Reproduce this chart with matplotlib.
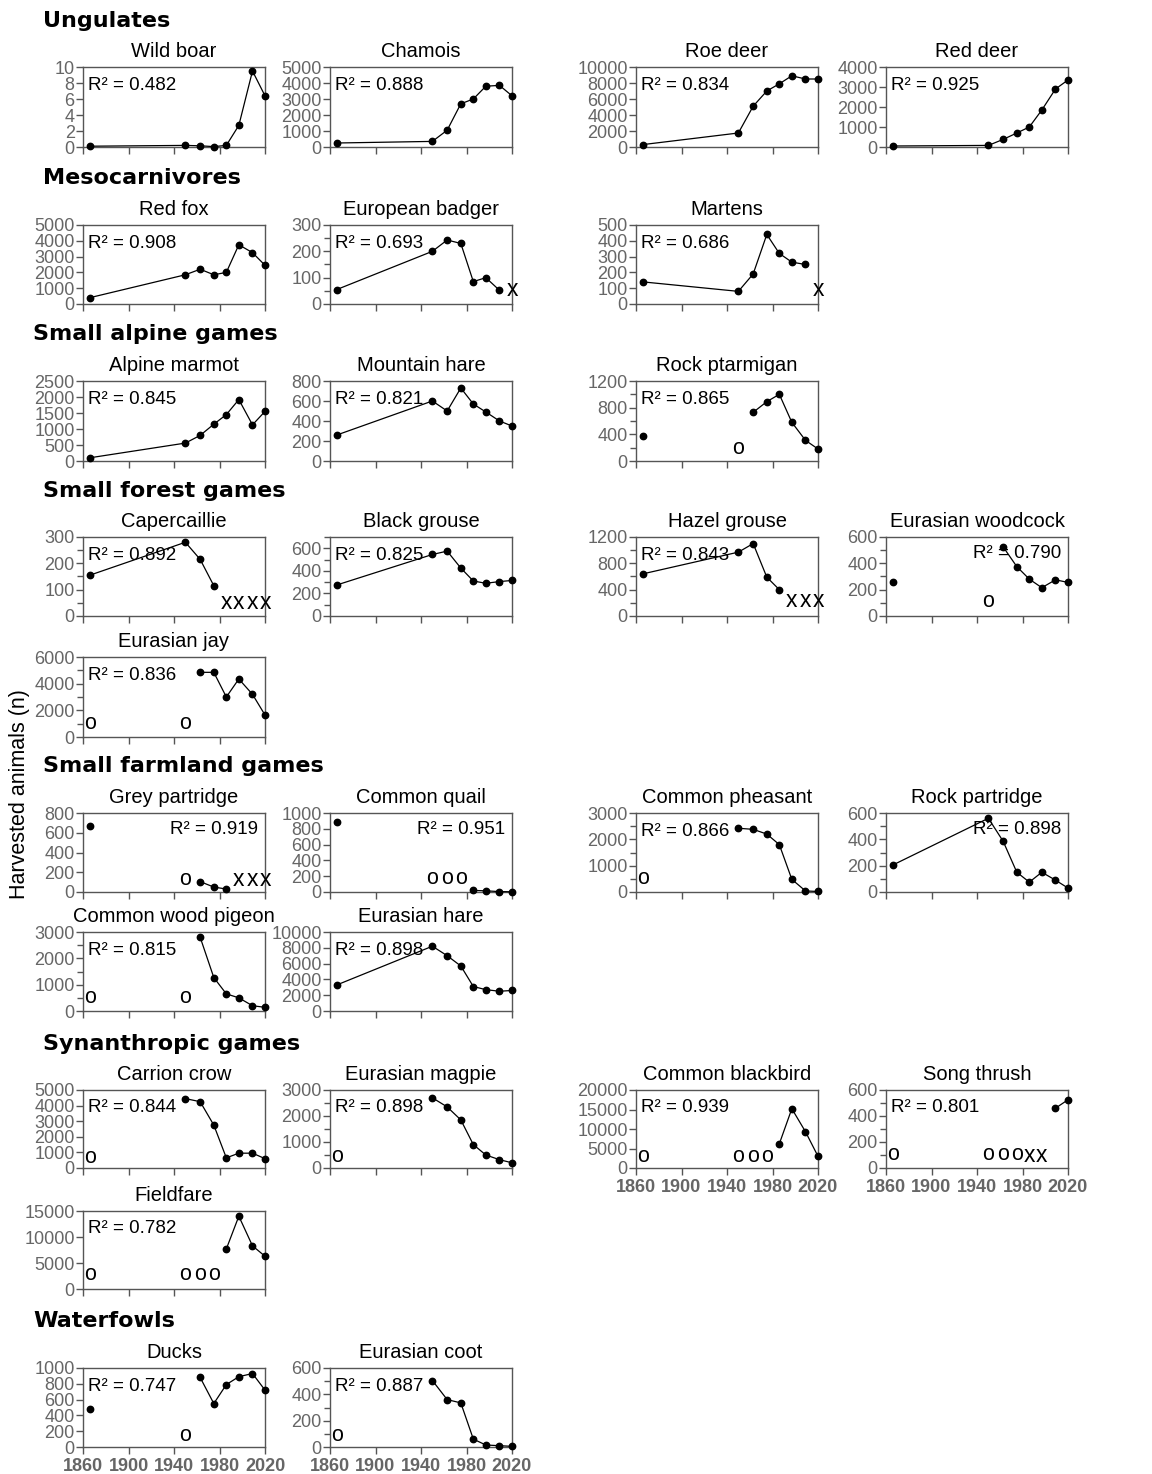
import numpy as np
import matplotlib
matplotlib.use("Agg")
import matplotlib.pyplot as plt
from matplotlib.ticker import MultipleLocator

plt.rcParams['font.family'] = ['Liberation Sans', 'DejaVu Sans']

nan = np.nan
YEARS = [1866, 1950, 1963, 1975, 1986, 1997, 2009, 2020]

# ---- harvested animals (n) per period ----
wild_boar      = [0.1, 0.2, 0.15, 0.05, 0.2, 2.7, 9.5, 6.4]
chamois        = [250, 350, 1050, 2700, 3000, 3800, 3850, 3200]
roe_deer       = [300, 1750, 5100, 7000, 7900, 8900, 8500, 8500]
red_deer       = [50, 80, 380, 700, 1000, 1850, 2900, 3350]
red_fox        = [400, 1850, 2200, 1850, 2000, 3750, 3250, 2450]
badger         = [55, 200, 243, 230, 85, 100, 52, nan]
martens        = [140, 80, 190, 440, 320, 265, 250, nan]
marmot         = [100, 560, 800, 1150, 1450, 1920, 1130, 1550]
mountain_hare  = [260, 600, 500, 730, 570, 490, 400, 350]
ptarmigan      = [380, nan, 730, 890, 1000, 580, 310, 180]
capercaillie   = [155, 280, 215, 115, nan, nan, nan, nan]
black_grouse   = [275, 545, 575, 425, 310, 290, 305, 315]
hazel_grouse   = [640, 970, 1100, 590, 400, nan, nan, nan]
woodcock       = [260, nan, 525, 375, 280, 215, 275, 255]
jay            = [nan, nan, 4850, 4850, 3000, 4350, 3200, 1650]
grey_partridge = [670, nan, 105, 50, 30, nan, nan, nan]
quail          = [880, nan, nan, nan, 20, 15, 5, 3]
pheasant       = [nan, 2420, 2380, 2200, 1800, 480, 40, 20]
rock_partridge = [205, 560, 385, 150, 75, 150, 90, 30]
wood_pigeon    = [nan, nan, 2800, 1270, 650, 500, 200, 140]
eurasian_hare  = [3300, 8200, 7000, 5700, 3100, 2700, 2500, 2600]
carrion_crow   = [nan, 4450, 4250, 2750, 650, 950, 950, 600]
magpie         = [nan, 2700, 2350, 1850, 900, 500, 320, 200]
blackbird      = [nan, nan, nan, nan, 6200, 15200, 9300, 3000]
song_thrush    = [nan, nan, nan, nan, nan, nan, 460, 525]
fieldfare      = [nan, nan, nan, nan, 7700, 14000, 8300, 6300]
ducks          = [480, nan, 880, 550, 790, 890, 930, 720]
coot           = [nan, 505, 360, 335, 60, 15, 10, 5]

# ---- "o" (no data) and "x" markers: (year, level) ----
o_marks = {
    "Rock ptarmigan": [(1950, 180)],
    "Eurasian woodcock": [(1950, 110)],
    "Eurasian jay": [(1866, 1000), (1950, 1000)],
    "Grey partridge": [(1950, 130)],
    "Common quail": [(1950, 170), (1963, 170), (1975, 170)],
    "Common pheasant": [(1866, 500)],
    "Common wood pigeon": [(1866, 500), (1950, 500)],
    "Carrion crow": [(1866, 700)],
    "Eurasian magpie": [(1866, 450)],
    "Common blackbird": [(1866, 3000), (1950, 3000), (1963, 3000), (1975, 3000)],
    "Song thrush": [(1866, 100), (1950, 100), (1963, 100), (1975, 100)],
    "Fieldfare": [(1866, 2700), (1950, 2700), (1963, 2700), (1975, 2700)],
    "Ducks": [(1950, 150)],
    "Eurasian coot": [(1866, 90)],
}
x_marks = {
    "European badger": [(2020, 55)],
    "Martens": [(2020, 90)],
    "Capercaillie": [(1986, 50), (1997, 50), (2009, 50), (2020, 50)],
    "Hazel grouse": [(1997, 230), (2009, 230), (2020, 230)],
    "Grey partridge": [(1997, 130), (2009, 130), (2020, 130)],
    "Song thrush": [(1986, 100), (1997, 100)],
}

species = ["Wild boar", "Chamois", "Roe deer", "Red deer",
           "Red fox", "European badger", "Martens",
           "Alpine marmot", "Mountain hare", "Rock ptarmigan",
           "Capercaillie", "Black grouse", "Hazel grouse", "Eurasian woodcock",
           "Eurasian jay",
           "Grey partridge", "Common quail", "Common pheasant", "Rock partridge",
           "Common wood pigeon", "Eurasian hare",
           "Carrion crow", "Eurasian magpie", "Common blackbird", "Song thrush",
           "Fieldfare",
           "Ducks", "Eurasian coot"]
series = [wild_boar, chamois, roe_deer, red_deer,
          red_fox, badger, martens,
          marmot, mountain_hare, ptarmigan,
          capercaillie, black_grouse, hazel_grouse, woodcock,
          jay,
          grey_partridge, quail, pheasant, rock_partridge,
          wood_pigeon, eurasian_hare,
          carrion_crow, magpie, blackbird, song_thrush,
          fieldfare,
          ducks, coot]
r2_values = [0.482, 0.888, 0.834, 0.925,
             0.908, 0.693, 0.686,
             0.845, 0.821, 0.865,
             0.892, 0.825, 0.843, 0.790,
             0.836,
             0.919, 0.951, 0.866, 0.898,
             0.815, 0.898,
             0.844, 0.898, 0.939, 0.801,
             0.782,
             0.747, 0.887]
# y axis: (max, major step, minor step or None)
y_axes = [(10, 2, None), (5000, 1000, None), (10000, 2000, None), (4000, 1000, None),
          (5000, 1000, None), (300, 100, 50), (500, 100, None),
          (2500, 500, None), (800, 200, None), (1200, 400, 200),
          (300, 100, 50), (700, 200, 100), (1200, 400, 200), (600, 200, 100),
          (6000, 2000, 1000),
          (800, 200, None), (1000, 200, None), (3000, 1000, 500), (600, 200, 100),
          (3000, 1000, 500), (10000, 2000, None),
          (5000, 1000, None), (3000, 1000, 500), (20000, 5000, None), (600, 200, 100),
          (15000, 5000, None),
          (1000, 200, None), (600, 200, 100)]
x_ticks = [1860, 1900, 1940, 1980, 2020]

groups = ["Ungulates", "Mesocarnivores", "Small alpine games", "Small forest games",
          "Small farmland games", "Synanthropic games", "Waterfowls"]

# ---- layout (pixels) ----
W, H = 1152, 1474
COL_LEFT = [83, 330, 636, 886]
AX_W = 182
ROWS = [(67, 147), (225, 304), (381, 461), (537, 616), (657, 737),
        (813, 892), (932, 1011), (1090, 1168), (1211, 1289), (1368, 1447)]
grid_pos = [(0, 0), (0, 1), (0, 2), (0, 3),
            (1, 0), (1, 1), (1, 2),
            (2, 0), (2, 1), (2, 2),
            (3, 0), (3, 1), (3, 2), (3, 3),
            (4, 0),
            (5, 0), (5, 1), (5, 2), (5, 3),
            (6, 0), (6, 1),
            (7, 0), (7, 1), (7, 2), (7, 3),
            (8, 0),
            (9, 0), (9, 1)]
header_pos = [(43, 21), (43, 178), (33, 334), (43, 491), (43, 766), (43, 1044), (33, 1321)]
r2_right = {"Eurasian woodcock", "Grey partridge", "Common quail", "Rock partridge"}
xlabel_panels = {"Common blackbird", "Song thrush", "Ducks", "Eurasian coot"}

GREY = '#666666'
SPINE = '#555555'

fig = plt.figure(figsize=(W / 100, H / 100), dpi=100)

for name, vals, r2, (ymax, major, minor), (row, col) in zip(
        species, series, r2_values, y_axes, grid_pos):
    top, bot = ROWS[row]
    ax = fig.add_axes([COL_LEFT[col] / W, 1 - bot / H, AX_W / W, (bot - top) / H])
    ax.plot(YEARS, vals, color='black', lw=0.9, marker='o', ms=4.6,
            markerfacecolor='black', markeredgecolor='black', clip_on=False, zorder=3)
    for (yr, lv) in o_marks.get(name, []):
        ax.text(yr, lv, 'o', ha='center', va='center', fontsize=15.5, color='black',
                clip_on=False)
    for (yr, lv) in x_marks.get(name, []):
        ax.text(yr, lv, 'x', ha='center', va='center', fontsize=16.5, color='black',
                clip_on=False)
    ax.set_xlim(1860, 2020)
    ax.set_ylim(0, ymax)
    ax.set_xticks(x_ticks)
    ax.yaxis.set_major_locator(MultipleLocator(major))
    if minor:
        ax.yaxis.set_minor_locator(MultipleLocator(minor))
    if name in xlabel_panels:
        ax.set_xticklabels([str(t) for t in x_ticks], fontsize=13,
                           fontweight='bold', color=GREY, family='Liberation Sans')
    else:
        ax.set_xticklabels([])
    for lab in ax.get_yticklabels():
        lab.set_fontsize(13)
        lab.set_color(GREY)
    ax.tick_params(axis='both', which='major', direction='out', length=5,
                   width=1, color=SPINE, pad=1)
    ax.tick_params(axis='y', which='minor', direction='out', length=4,
                   width=1, color=SPINE)
    ax.tick_params(axis='x', which='major', pad=3)
    for s in ax.spines.values():
        s.set_color(SPINE)
        s.set_linewidth(1)
    ax.set_title(name, fontsize=14.5, pad=7, color='black')
    xf = 0.48 if name in r2_right else 0.03
    yf = 0.79 if name in r2_right else 0.77
    ax.text(xf, yf, f"R² = {r2:.3f}", transform=ax.transAxes, fontsize=13.5,
            ha='left', va='center', color='black', zorder=2)

for g, (px, py) in zip(groups, header_pos):
    fig.text(px / W, 1 - py / H, g, fontsize=16, fontweight='bold',
             family='DejaVu Sans', ha='left', va='center')

fig.text(20 / W, 1 - 794 / H, "Harvested animals (n)", rotation=90,
         fontsize=15.5, ha='center', va='center', color='black')

fig.savefig("out.png", dpi=100, facecolor='white')
